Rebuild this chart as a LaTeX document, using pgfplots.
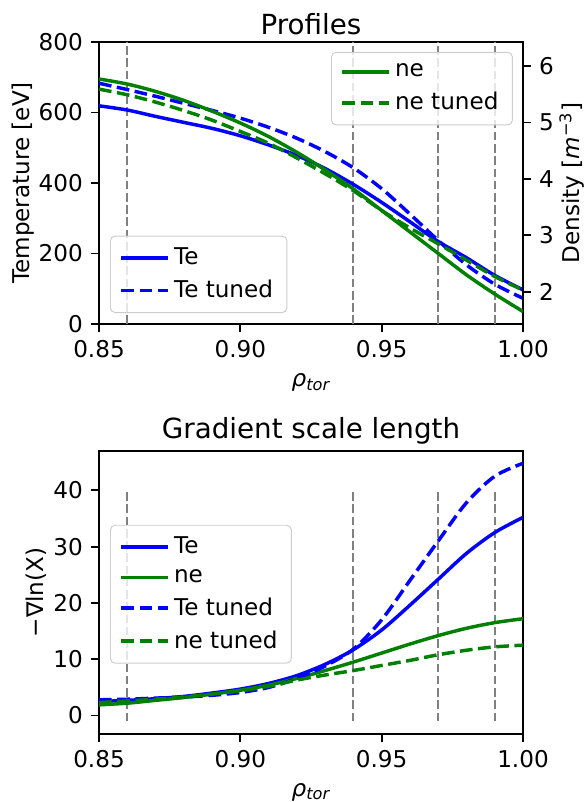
\documentclass[border=0pt]{standalone}
\usepackage{pgfplots}
\usepackage{pgfplotstable}
\pgfplotsset{compat=1.18}
\usepackage{fontspec}
\setmainfont{DejaVu Sans}
\definecolor{mplgreen}{RGB}{0,128,0}
\definecolor{mplblue}{RGB}{0,0,255}
\definecolor{vgray}{RGB}{128,128,128}

\pgfplotstableread{
x     Te   Tet  ne   net  gTe  gne  gTet gnet
0.85  619  683  5.77 5.59 2.5  1.9  2.8  2.3
0.86  607  665  5.68 5.49 2.7  2.2  2.9  2.6
0.87  589  646  5.55 5.36 3.0  2.7  3.1  2.9
0.88  572  626  5.39 5.21 3.4  3.2  3.3  3.3
0.89  555  606  5.20 5.04 4.0  3.8  3.6  3.8
0.90  534  584  4.99 4.84 4.7  4.5  4.1  4.4
0.91  508  558  4.75 4.63 5.7  5.4  5.0  5.2
0.92  478  527  4.47 4.37 7.1  6.6  6.6  6.3
0.93  441  489  4.16 4.09 9.1  8.0  8.8  7.2
0.94  396  443  3.82 3.79 11.7 9.5  11.8 8.0
0.95  345  384  3.44 3.44 15.2 11.1 17.0 8.9
0.96  290  312  3.06 3.13 19.6 12.7 24.0 9.8
0.97  234  237  2.68 2.85 24.2 14.2 31.0 10.8
0.98  188  168  2.30 2.56 28.8 15.5 37.8 11.6
0.99  138  113  1.96 2.27 32.5 16.5 42.5 12.2
1.00  97   73   1.65 2.03 35.2 17.2 44.8 12.5
}\data

\pgfplotsset{
  base/.style={
    scale only axis, width=182.8bp,
    xmin=0.85, xmax=1.0,
    font=\fontsize{10}{12}\selectfont,
    /pgf/number format/assume math mode=true,
    tick align=outside, major tick length=3.5pt,
    every tick/.style={line width=0.8pt, black},
    axis line style={line width=0.8pt},
    legend cell align=left,
    legend image code/.code={\draw[##1] (0pt,0pt) -- (20pt,0pt);},
    legend style={draw=black!20, rounded corners=2pt, fill=white, fill opacity=0.8, text opacity=1,
      font=\fontsize{10}{12}\selectfont, row sep=1.2pt, inner xsep=4pt, inner ysep=3pt},
    title style={font=\fontsize{12}{14}\selectfont, yshift=-6.5bp},
  },
  vl/.style={vgray, line width=0.9pt, dash pattern=on 3.7pt off 1.6pt, forget plot},
  dat/.style={line width=1.5pt, smooth},
  dsh/.style={line width=1.5pt, smooth, dash pattern=on 5.5pt off 2.4pt},
}

\begin{document}
\begin{tikzpicture}
\path[use as bounding box] (-42.69bp,18.11bp) rectangle (209.11bp,-327.68bp);

\begin{axis}[base, at={(0bp,0bp)}, anchor=north west, height=121.6bp,
  ymin=0, ymax=800, ytick={0,200,400,600,800},
  xtick={0.85,0.9,0.95,1.0}, xticklabels={0.85,0.90,0.95,1.00},
  xtick pos=lower, ytick pos=left,
  title={Profiles},
  xlabel={{\itshape ρ}\textsubscript{\itshape tor}},
  ylabel={Temperature [eV]}, ylabel shift=-5pt,
  legend style={at={(0.026,0.039)}, anchor=south west},
]
\addplot[vl] coordinates {(0.86,0) (0.86,800)};
\addplot[vl] coordinates {(0.94,0) (0.94,800)};
\addplot[vl] coordinates {(0.97,0) (0.97,800)};
\addplot[vl] coordinates {(0.99,0) (0.99,800)};
\addplot[dat, mplblue] table[x=x, y=Te] {\data};
\addlegendentry{Te}
\addplot[dsh, mplblue] table[x=x, y=Tet] {\data};
\addlegendentry{Te tuned}
\end{axis}

\begin{axis}[base, at={(0bp,0bp)}, anchor=north west, height=121.6bp,
  ymin=1.428, ymax=6.425, ytick={2,3,4,5,6},
  axis y line*=right, axis x line=none,
  ylabel={Density [{\itshape m}\textsuperscript{−3}]}, ylabel shift=-4.5pt,
  legend style={at={(0.976,0.965)}, anchor=north east},
]
\addplot[dat, mplgreen] table[x=x, y=ne] {\data};
\addlegendentry{ne}
\addplot[dsh, mplgreen] table[x=x, y=net] {\data};
\addlegendentry{ne tuned}
\node[anchor=south east, inner sep=0pt, font=\fontsize{10}{12}\selectfont] at (rel axis cs:1,1) [yshift=3pt] {1e19};
\end{axis}

\begin{axis}[base, at={(0bp,-176.3bp)}, anchor=north west, height=122bp,
  ymin=-3.25, ymax=47.0, ytick={0,10,20,30,40},
  xtick={0.85,0.9,0.95,1.0}, xticklabels={0.85,0.90,0.95,1.00},
  xtick pos=lower, ytick pos=left,
  title={Gradient scale length},
  xlabel={{\itshape ρ}\textsubscript{\itshape tor}},
  ylabel={−∇ln(X)}, ylabel shift=-4pt,
  legend style={at={(0.026,0.739)}, anchor=north west},
]
\addplot[vl] coordinates {(0.86,-1) (0.86,40)};
\addplot[vl] coordinates {(0.94,-1) (0.94,40)};
\addplot[vl] coordinates {(0.97,-1) (0.97,40)};
\addplot[vl] coordinates {(0.99,-1) (0.99,40)};
\addplot[dat, mplblue] table[x=x, y=gTe] {\data};
\addlegendentry{Te}
\addplot[dat, mplgreen] table[x=x, y=gne] {\data};
\addlegendentry{ne}
\addplot[dsh, mplblue] table[x=x, y=gTet] {\data};
\addlegendentry{Te tuned}
\addplot[dsh, mplgreen] table[x=x, y=gnet] {\data};
\addlegendentry{ne tuned}
\end{axis}
\end{tikzpicture}
\end{document}
